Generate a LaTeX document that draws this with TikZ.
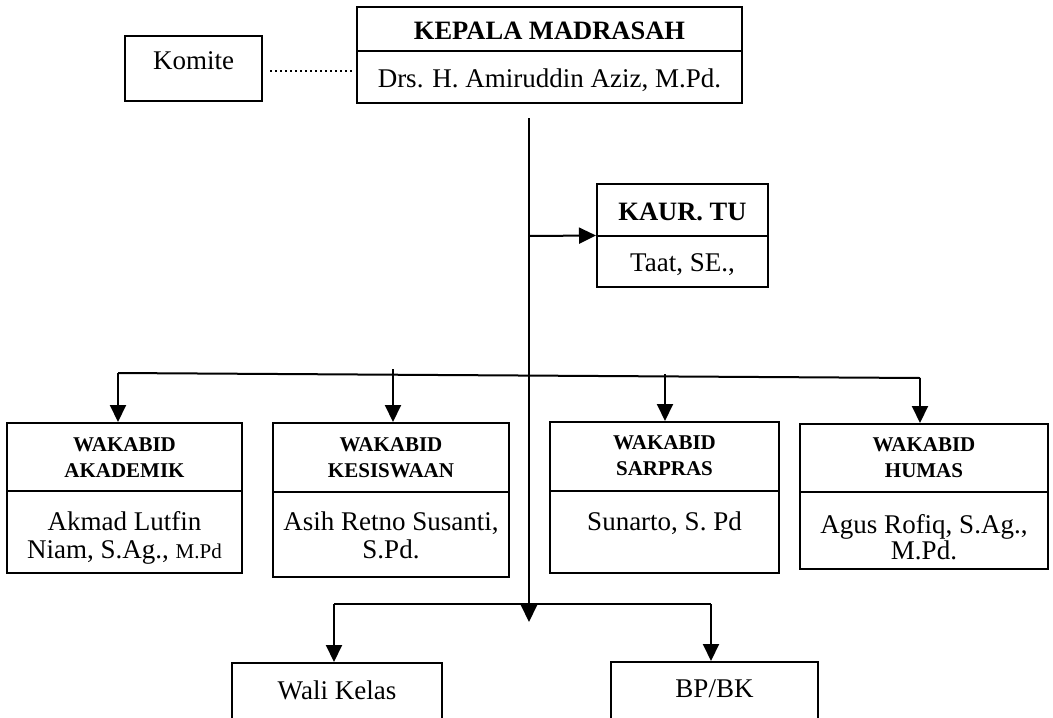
\documentclass[tikz,border=0pt]{standalone}
\usepackage{fontspec}
\setmainfont{Liberation Serif}
\usetikzlibrary{arrows.meta}
\begin{document}
\begin{tikzpicture}[x=1pt,y=-1pt,
  frame/.style={draw, line width=2pt, inner sep=0pt},
  big/.style={font=\fontsize{27}{30}\selectfont, inner sep=0pt, anchor=base},
  bigb/.style={font=\fontsize{26.5}{30}\bfseries\selectfont, inner sep=0pt, anchor=base},
  smb/.style={font=\fontsize{21}{26}\bfseries\selectfont, inner sep=0pt, anchor=base},
  conn/.style={line width=2pt},
  divl/.style={line width=2pt},
  arr/.style={conn, -{Triangle[length=17pt,width=16pt]}},
  dotl/.style={line width=2.6pt, dash pattern=on 2.2pt off 2.8pt}]
\clip (0,0) rectangle (1053,718);
\fill[white] (0,0) rectangle (1053,718);

% Kepala
\node[frame, minimum width=385pt, minimum height=96pt] (kepala) at (549.5,55) {};
\draw[divl] (kepala.west |- 0,51) -- (kepala.east |- 0,51);
\node[bigb] (kepT) at (549.5,39) {KEPALA MADRASAH};
\node[big] (kepN) at (549.5,87) {Drs. H. Amiruddin Aziz, M.Pd.};

% Komite
\node[frame, minimum width=137pt, minimum height=65pt] (komite) at (193.5,68) {};
\node[big] (komT) at (193.5,69) {Komite};
\coordinate (dA) at (270,71);
\coordinate (dB) at (352,71);
\draw[dotl] (dA) -- (dB);

% KAUR TU
\node[frame, minimum width=171pt, minimum height=103pt] (kaur) at (682.5,235.5) {};
\draw[divl] (kaur.west |- 0,236) -- (kaur.east |- 0,236);
\node[bigb] (kaurT) at (682.5,220) {KAUR. TU};
\node[big] (kaurN) at (682.5,271) {Taat, SE.,};

% Wakabid boxes
\node[frame, minimum width=235pt, minimum height=150pt] (akad) at (124.5,498) {};
\draw[divl] (akad.west |- 0,491) -- (akad.east |- 0,491);
\node[smb] (akadT1) at (124.5,451) {WAKABID};
\node[smb] (akadT2) at (124.5,477) {AKADEMIK};
\node[big] (akadN1) at (124.5,530) {Akmad Lutfin};
\node[big] (akadN2) at (124.5,558) {Niam, S.Ag., {\fontsize{21}{26}\selectfont M.Pd}};

\node[frame, minimum width=236pt, minimum height=154pt] (kesis) at (391,500) {};
\draw[divl] (kesis.west |- 0,492) -- (kesis.east |- 0,492);
\node[smb] (kesT1) at (391,451) {WAKABID};
\node[smb] (kesT2) at (391,477) {KESISWAAN};
\node[big] (kesN1) at (391,530) {Asih Retno Susanti,};
\node[big] (kesN2) at (391,558) {S.Pd.};

\node[frame, minimum width=229pt, minimum height=151pt] (sarp) at (664.5,497.5) {};
\draw[divl] (sarp.west |- 0,491) -- (sarp.east |- 0,491);
\node[smb] (sarT1) at (664.5,449) {WAKABID};
\node[smb] (sarT2) at (664.5,475) {SARPRAS};
\node[big] (sarN1) at (664.5,530) {Sunarto, S. Pd};

\node[frame, minimum width=248pt, minimum height=145pt] (humas) at (924,496.5) {};
\draw[divl] (humas.west |- 0,492) -- (humas.east |- 0,492);
\node[smb] (humT1) at (924,451) {WAKABID};
\node[smb] (humT2) at (924,477) {HUMAS};
\node[big] (humN1) at (924,533) {Agus Rofiq, S.Ag.,};
\node[big] (humN2) at (924,559) {M.Pd.};

% Bottom boxes
\node[frame, minimum width=210pt, minimum height=80pt] (wali) at (337,703) {};
\node[big] (waliT) at (337,699) {Wali Kelas};
\node[frame, minimum width=207pt, minimum height=80pt] (bpbk) at (714.5,702) {};
\node[big] (bpbkT) at (714.5,697) {BP/BK};

% Main line
\coordinate (mtop) at (529,118);
\coordinate (mbot) at (529,622);
\draw[arr] (mtop) -- (mbot);
\coordinate (kj) at (529,236);
\draw[arr] (kj) -- (kaur.west);

% Upper crossbar
\coordinate (cl) at (118,373);
\coordinate (cr) at (920,378);
\draw[conn] (cl) -- (cr);
\coordinate (ck) at (393,369);
\coordinate (cs) at (665,374);
\draw[arr] (cl) -- (cl |- akad.north);
\draw[arr] (ck) -- (ck |- kesis.north);
\draw[arr] (cs) -- (cs |- sarp.north);
\draw[arr] (cr) -- (cr |- humas.north);

% Lower crossbar
\coordinate (ll) at (334,604);
\coordinate (lr) at (711,604);
\draw[conn] (ll) -- (lr);
\draw[arr] (ll) -- (ll |- wali.north);
\draw[arr] (lr) -- (lr |- bpbk.north);
\end{tikzpicture}
\end{document}
